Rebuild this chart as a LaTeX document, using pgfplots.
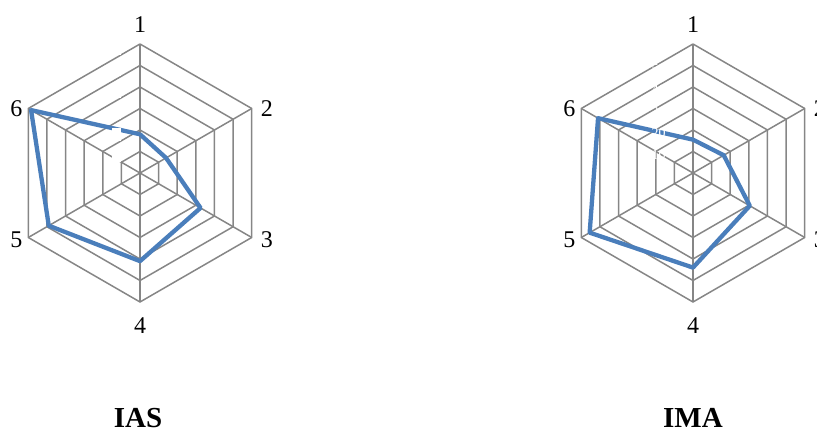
\documentclass[border=0pt]{standalone}
\usepackage{fontspec}
\setmainfont{Liberation Serif}
\usepackage{pgfplots}
\pgfplotsset{compat=1.18}

\definecolor{gridgray}{RGB}{134,134,134}
\definecolor{seriesblue}{RGB}{74,126,187}

% one radar panel: hexagonal grid, spokes and the six axis labels
\pgfplotsset{
  radar/.style={
    x=21.5pt, y=21.5pt,
    xmin=-6.5, xmax=6.5, ymin=-6.5, ymax=6.5,
    anchor=center, hide axis, clip=false,
    every axis plot/.append style={data cs=polar},
  },
  gridline/.style={gridgray, line width=1.5pt, mark=none},
  series/.style={seriesblue, line width=4.3pt, mark=none, line join=round},
}
\newcommand{\radargrid}{%
  \pgfplotsinvokeforeach{1,...,6}{%
    \addplot[gridline] coordinates {(90,##1) (30,##1) (-30,##1) (-90,##1) (-150,##1) (150,##1) (90,##1)};
  }
  \addplot[gridline] coordinates {(90,6) (270,6)};
  \addplot[gridline] coordinates {(30,6) (210,6)};
  \addplot[gridline] coordinates {(-30,6) (150,6)};
}
\newcommand{\radarlabels}{%
  \node[font=\fontsize{24}{26}\selectfont] at (axis cs:0,6.9) {1};
  \node[font=\fontsize{24}{26}\selectfont] at (axis cs:5.9,3.0) {2};
  \node[font=\fontsize{24}{26}\selectfont] at (axis cs:5.9,-3.1) {3};
  \node[font=\fontsize{24}{26}\selectfont] at (axis cs:0,-7.1) {4};
  \node[font=\fontsize{24}{26}\selectfont] at (axis cs:-5.75,-3.1) {5};
  \node[font=\fontsize{24}{26}\selectfont] at (axis cs:-5.75,3.0) {6};
}

\begin{document}
\begin{tikzpicture}
% IAS
\begin{axis}[radar, at={(140pt,262pt)}]
\radargrid
\addplot[series] coordinates {
  (90,1.8) (30,1.4) (-30,3.25) (-90,4.1) (-150,4.9) (150,5.85) (90,1.8)
};
% radial tick labels, white as in the source
\pgfplotsinvokeforeach{1,...,6}{
  \node[fill=white, text=white, inner sep=0pt, minimum width=9pt, minimum height=13pt,
        font=\fontsize{12}{12}\selectfont] at (axis cs:-1.07,#1-0.2) {#1};
}
\radarlabels
\end{axis}

% IMA
\begin{axis}[radar, at={(693pt,262pt)}]
\radargrid
\addplot[series] coordinates {
  (90,1.55) (30,1.65) (-30,3.05) (-90,4.4) (-150,5.55) (150,5.1) (90,1.55)
};
\pgfplotsinvokeforeach{1,...,6}{
  \node[text=white, inner sep=0pt, font=\fontsize{14}{14}\selectfont] at (axis cs:-1.6,#1-0.15) {#10};
}
\radarlabels
\end{axis}

\node[font=\fontsize{29}{32}\selectfont\bfseries] at (138pt,17pt) {IAS};
\node[font=\fontsize{29}{32}\selectfont\bfseries] at (693pt,17pt) {IMA};

\pgfresetboundingbox
\useasboundingbox (0,0) rectangle (817pt,435pt);
\end{tikzpicture}
\end{document}
